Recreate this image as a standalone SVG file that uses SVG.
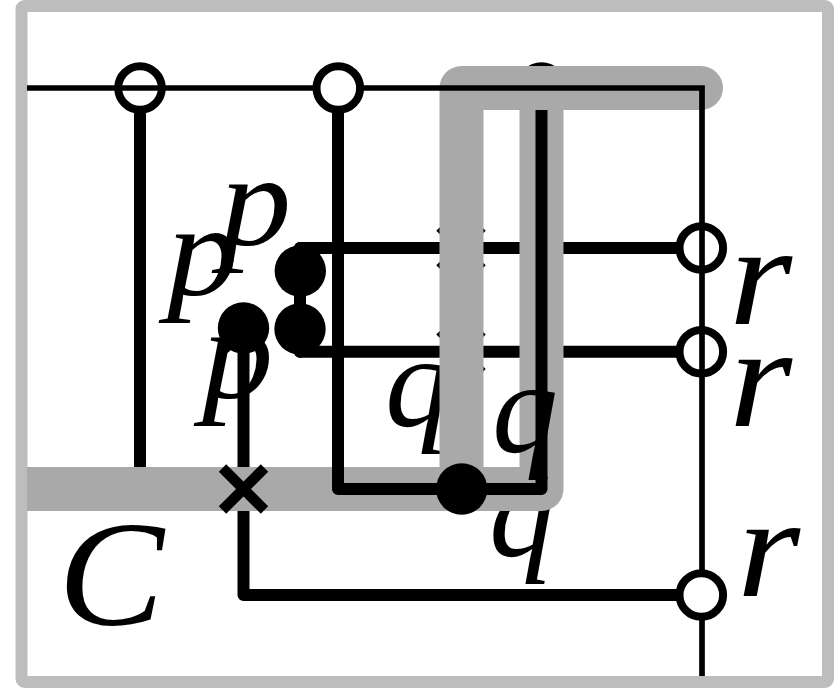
<svg xmlns="http://www.w3.org/2000/svg" width="834" height="688" viewBox="0 0 834 688">
  <style>
    .lbl { font-family: "Liberation Serif", "Times New Roman", serif; font-style: italic; font-size: 132px; fill: #000; }
    .r { font-size: 145px; }
    .bus { fill: none; stroke: #a9a9a9; stroke-width: 44; stroke-linejoin: round; stroke-linecap: round; }
    .wire { fill: none; stroke: #000; stroke-width: 12; stroke-linejoin: round; stroke-linecap: round; }
    .butt { stroke-linecap: butt; }
    .thin { fill: none; stroke: #000; stroke-width: 5.700; stroke-linejoin: miter; }
    .ring { fill: #fff; stroke: #000; stroke-width: 8; }
    .dot { fill: #000; }
    .cross { fill: none; stroke: #000; stroke-width: 10.500; }
  </style>
  <rect width="834" height="688" fill="#fff"/>
  <rect id="frame" x="21.500" y="6" width="806.500" height="676" rx="3" fill="none" stroke="#bdbdbd" stroke-width="12"/>

  <g id="labels-under">
    <text id="label-p1" class="lbl" transform="translate(167 295) scale(1.08 1)">p</text>
    <text id="label-p2" class="lbl" transform="translate(220 245) scale(1.08 1)">p</text>
    <text id="label-p3" class="lbl" transform="translate(202 398) scale(1.08 1)">p</text>
    <text id="label-q1" class="lbl" x="385" y="426">q</text>
    <text id="label-q3" class="lbl" x="489" y="556">q</text>
    <text id="label-C" class="lbl" transform="translate(58 625) scale(1.06 1)" style="font-size:150px">C</text>
    <text id="label-r1" class="lbl r" transform="translate(729 323.500) scale(1.12 1)">r</text>
    <text id="label-r2" class="lbl r" transform="translate(729 426) scale(1.12 1)">r</text>
    <text id="label-r3" class="lbl r" transform="translate(737 595.500) scale(1.12 1)">r</text>
  </g>

  <g id="connectors">
    <path class="wire" d="M140 88V467"/>
    <path class="wire" d="M300 248H702"/>
    <path class="wire" d="M300 351.700H702"/>
    <path class="wire" d="M243.500 325V595H702"/>
    <path class="wire" d="M300 248V351.700"/>
    <path class="cross" d="M440 227L482 269M482 227L440 269"/>
    <path class="cross" d="M440 330.700L482 372.700M482 330.700L440 372.700"/>
    <circle id="top-dot" class="dot" cx="541.500" cy="88" r="25.700"/>
    <path class="bus butt" d="M27 489H541.500V88"/>
    <path class="bus" d="M461.500 489V88H701"/>
    <path class="wire butt" d="M338 88V489H541.500V110"/>
    <path class="thin" d="M27 88H702V676"/>
  </g>

  <g id="markers">
    <g id="ring-a"><circle class="ring" cx="140" cy="88" r="21.800"/><path class="thin" d="M118 88H162"/></g>
    <g id="ring-b"><circle class="ring" cx="338.300" cy="88" r="21.800"/></g>
    <g id="ring-r1"><circle class="ring" cx="701.300" cy="248" r="21.800"/><path class="thin" d="M702 226V270"/></g>
    <g id="ring-r2"><circle class="ring" cx="701.300" cy="351.700" r="21.800"/><path class="thin" d="M702 330V374"/></g>
    <g id="ring-r3"><circle class="ring" cx="701.300" cy="595" r="21.800"/></g>
    <circle id="dot-1" class="dot" cx="300.300" cy="271" r="25.700"/>
    <circle id="dot-2" class="dot" cx="300" cy="329" r="25.700"/>
    <circle id="dot-3" class="dot" cx="243.500" cy="328" r="25.700"/>
    <circle id="dot-4" class="dot" cx="461.700" cy="489" r="25.700"/>
    <path id="cross-c" class="cross" d="M222.500 468L264.500 510M264.500 468L222.500 510"/>
  </g>

  <text id="label-q2" class="lbl" x="492" y="452">q</text>
</svg>
